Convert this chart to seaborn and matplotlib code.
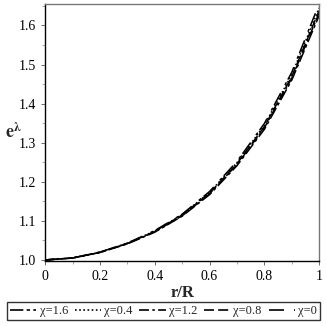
import numpy as np
import pandas as pd
import seaborn as sns
import matplotlib.pyplot as plt

# radial coordinate r/R
r = [0.0, 0.1, 0.2, 0.3, 0.4, 0.5, 0.6, 0.7, 0.8, 0.9, 1.0]
# e^lambda for each chi
chi_16 = [1.000, 1.005, 1.019, 1.041, 1.071, 1.112, 1.167, 1.241, 1.334, 1.460, 1.625]
chi_04 = [1.000, 1.005, 1.020, 1.043, 1.074, 1.116, 1.173, 1.249, 1.345, 1.474, 1.645]
chi_12 = [1.000, 1.005, 1.019, 1.042, 1.072, 1.113, 1.169, 1.244, 1.338, 1.465, 1.632]
chi_08 = [1.000, 1.005, 1.020, 1.042, 1.073, 1.115, 1.171, 1.246, 1.341, 1.469, 1.638]
chi_0 = [1.000, 1.005, 1.020, 1.043, 1.075, 1.117, 1.175, 1.252, 1.349, 1.480, 1.655]
labels = ['χ=1.6', 'χ=0.4', 'χ=1.2', 'χ=0.8', 'χ=0']
xticks = [0, 0.2, 0.4, 0.6, 0.8, 1.0]
xtick_labels = ['0', '0.2', '0.4', '0.6', '0.8', '1']
yticks = [1.0, 1.1, 1.2, 1.3, 1.4, 1.5, 1.6]

series = [chi_16, chi_04, chi_12, chi_08, chi_0]
df = pd.concat([pd.DataFrame({'r': r, 'e': s, 'chi': lab}) for s, lab in zip(series, labels)])

sns.set_style('ticks')
plt.rcParams['font.family'] = ['Liberation Serif', 'DejaVu Serif']
plt.rcParams['mathtext.fontset'] = 'stix'

dashes = {'χ=1.6': (8, 2, 2, 2), 'χ=0.4': (1, 1.5), 'χ=1.2': (6, 2, 1.5, 2),
          'χ=0.8': (6, 2.5), 'χ=0': (9, 6, 2, 2)}

fig = plt.figure(figsize=(3.27, 3.26), dpi=100)
ax = fig.add_axes([0.138, 0.199, 0.838, 0.789])
sns.lineplot(data=df, x='r', y='e', hue='chi', style='chi', dashes=dashes,
             palette=['black'] * 5, linewidth=1.1, ax=ax, legend=False)

ax.set_xlim(0, 1)
ax.set_ylim(0.997, 1.655)
ax.set_xticks(xticks)
ax.set_xticklabels(xtick_labels)
ax.set_xticks([0.1, 0.3, 0.5, 0.7, 0.9], minor=True)
ax.set_yticks(yticks)
ax.set_yticklabels([f'{v:.1f}' for v in yticks])
ax.set_yticks([1.05, 1.15, 1.25, 1.35, 1.45, 1.55, 1.65], minor=True)
ax.tick_params(which='major', length=3, width=0.6, labelsize=10, colors='#555555', labelcolor='black')
ax.tick_params(which='minor', length=2, width=0.6, colors='#999999')
for s in ['left', 'bottom']:
    ax.spines[s].set_color('black')
    ax.spines[s].set_linewidth(1.0)
for s in ['top', 'right']:
    ax.spines[s].set_visible(True)
    ax.spines[s].set_color('#777777')
    ax.spines[s].set_linewidth(1.0)

ax.set_xlabel('r/R', fontsize=12, fontweight='bold', labelpad=1)
ax.set_ylabel(r'$\mathbf{e}^{\mathbf{\lambda}}$', fontsize=13, rotation=0, va='center', ha='center')
ax.yaxis.set_label_coords(-0.115, 0.5)

handles = [plt.Line2D([], [], color='black', linewidth=1.2, dashes=dashes[lab]) for lab in labels]
leg = fig.legend(handles, labels, loc='lower center', bbox_to_anchor=(0.5, 0.01), ncol=5,
                 frameon=True, fancybox=False, edgecolor='black', fontsize=9,
                 handlelength=2.1, handletextpad=0.25, columnspacing=0.55, borderpad=0.25,
                 borderaxespad=0.2)
leg.get_frame().set_linewidth(1.0)

fig.savefig('out.png', dpi=100)
